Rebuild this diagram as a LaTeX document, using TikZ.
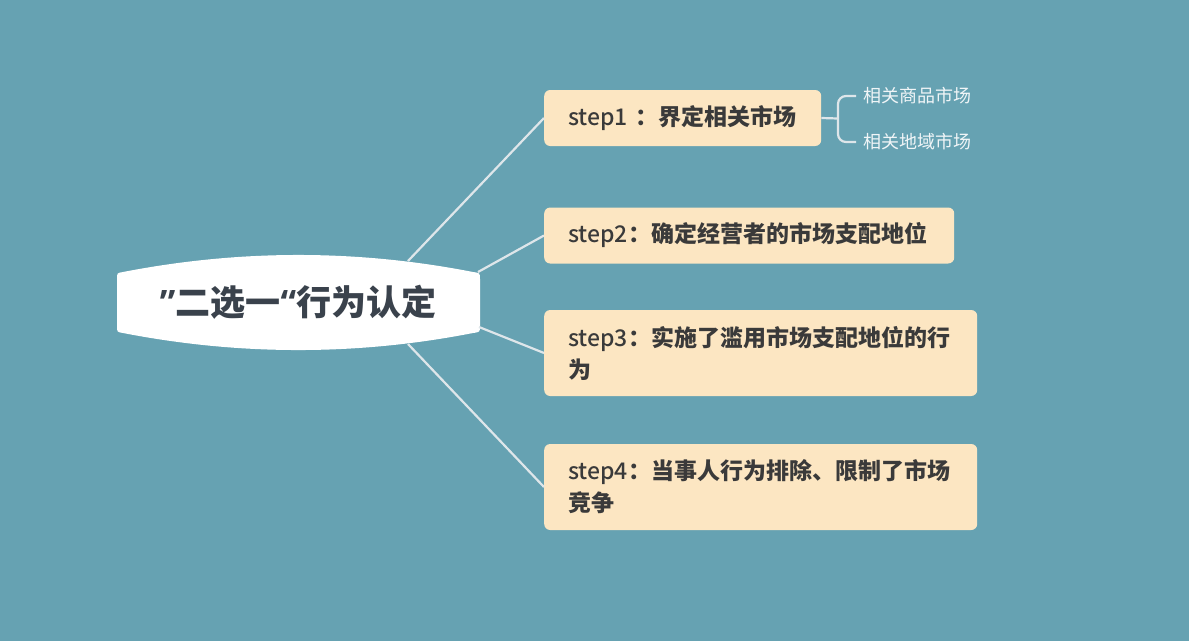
\documentclass[tikz,border=0pt]{standalone}
\usepackage{fontspec}
\setmainfont{Noto Sans CJK SC}
\newfontfamily\medfont{Noto Sans CJK SC}[UprightFont=* Medium, BoldFont=* Medium]
\newfontfamily\latinq{Open Sans}
\definecolor{bgc}{RGB}{102,162,178}
\definecolor{boxc}{RGB}{252,230,194}
\definecolor{txtc}{RGB}{58,58,58}
\definecolor{ctxt}{RGB}{58,66,76}
\definecolor{linec}{RGB}{222,230,234}
\definecolor{subc}{RGB}{240,245,247}
\newcommand{\stl}[1]{{\medfont #1}}
\tikzset{
  conn/.style={draw=linec, line width=2.2pt},
  stepbox/.style={fill=boxc, rounded corners=6pt, anchor=west, inner xsep=24pt, inner ysep=0pt,
    minimum height=#1, align=left, text=txtc, font=\bfseries\fontsize{23}{32}\selectfont},
  subtext/.style={anchor=west, inner xsep=7pt, inner ysep=0pt, text=subc, font=\fontsize{18}{22}\selectfont},
  centertext/.style={text=ctxt, font=\bfseries\fontsize{35}{40}\selectfont, inner sep=0pt}
}
\begin{document}
\begin{tikzpicture}[x=1pt,y=-1pt]
\useasboundingbox[fill=bgc] (0,0) rectangle (1189,641);
% central shape
\path[fill=white] (117,279) .. controls (117,273) .. (123,272)
  .. controls (240,249.3) and (357,249.3) .. (473,272)
  .. controls (480,273) .. (480,279) -- (480,326)
  .. controls (480,332) .. (473,333)
  .. controls (357,355.7) and (240,355.7) .. (123,333)
  .. controls (117,332) .. (117,326) -- cycle;
\node[centertext] (c) at (298,302) {{\latinq ”}二选一{\latinq “}行为认定};
\coordinate (c1) at (408,261);
\coordinate (c2) at (478,272);
\coordinate (c3) at (479,327);
\coordinate (c4) at (408,344);
% steps
\node[stepbox=56pt, text width=229pt] (s1) at (544,118) {\stl{step1}~：界定相关市场};
\node[stepbox=56pt, text width=362pt] (s2) at (544,235.5) {\stl{step2}：确定经营者的市场支配地位};
\node[stepbox=86pt, text width=385pt] (s3) at (544,353) {\stl{step3}：实施了滥用市场支配地位的行\\为};
\node[stepbox=86pt, text width=385pt] (s4) at (544,487) {\stl{step4}：当事人行为排除、限制了市场\\竞争};
% connectors
\draw[conn] (c1) -- (s1.west);
\draw[conn] (c2) -- (s2.west);
\draw[conn] (c3) -- (s3.west);
\draw[conn] (c4) -- (s4.west);
% sub items
\node[subtext] (a1) at (856,96) {相关商品市场};
\node[subtext] (a2) at (856,142) {相关地域市场};
\coordinate (br) at (838,118.5);
\draw[conn] (s1.east) -- (br);
\draw[conn, rounded corners=8pt] (a1.west) -| (br) |- (a2.west);
\end{tikzpicture}
\end{document}
